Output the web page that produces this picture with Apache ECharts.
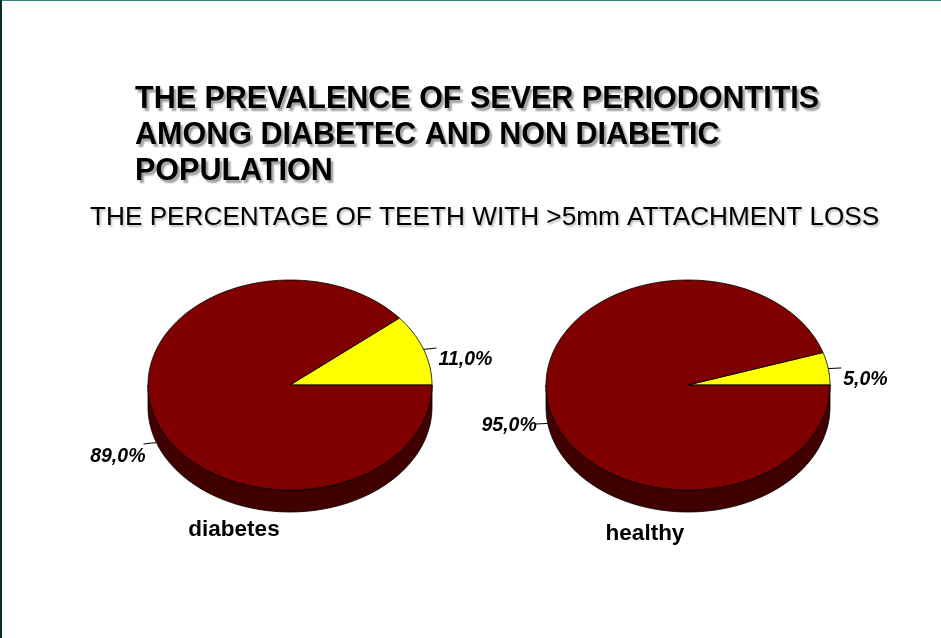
<!DOCTYPE html>
<html>
<head>
<meta charset="utf-8">
<script src="https://cdn.jsdelivr.net/npm/echarts@6/dist/echarts.min.js"></script>
<style>
html,body{margin:0;padding:0;background:#fff;}
#chart{width:941px;height:638px;}
</style>
</head>
<body>
<div id="chart"></div>
<script>
// ---- data ----
const titleLines = ['THE PREVALENCE OF SEVER PERIODONTITIS', 'AMONG DIABETEC AND NON DIABETIC', 'POPULATION'];
const subtitleText = 'THE PERCENTAGE OF TEETH WITH >5mm ATTACHMENT LOSS';
const pieNames = ['diabetes', 'healthy'];
const sliceNames = ['severe periodontitis', 'other'];
const diabetesValues = [11.0, 89.0];
const healthyValues = [5.0, 95.0];
const sliceColors = ['#FFFF00', '#800000'];
const sideColors = ['#7f7f00', '#400000'];

// ---- layout (style only) ----
const pieLayout = [
  { cx: 290, cy: 385, rx: 142, ry: 105, depth: 22, labelDy: [12, 13] },
  { cx: 688, cy: 385, rx: 142, ry: 105, depth: 22, labelDy: [12, 2] }
];

function fmt(v) { return v.toFixed(1).replace('.', ',') + '%'; }

function ellPt(L, a, dy) {
  return [L.cx + L.rx * Math.cos(a), L.cy - L.ry * Math.sin(a) + (dy || 0)];
}

function makeRender(values, L) {
  const total = values.reduce((s, v) => s + v, 0);
  return function (params, api) {
    const i = params.dataIndex;
    const v = api.value(0);
    let before = 0;
    for (let k = 0; k < i; k++) before += values[k];
    const a1 = before / total * Math.PI * 2;
    const a2 = (before + v) / total * Math.PI * 2;
    const children = [];
    // side wall (visible where angle in [PI, 2PI])
    const s = Math.max(a1, Math.PI), e = Math.min(a2, Math.PI * 2);
    if (e > s) {
      const pts = [];
      const n = 80;
      for (let k = 0; k <= n; k++) pts.push(ellPt(L, s + (e - s) * k / n, 0));
      for (let k = n; k >= 0; k--) pts.push(ellPt(L, s + (e - s) * k / n, L.depth));
      children.push({
        type: 'polygon', z2: 1,
        shape: { points: pts },
        style: { fill: sideColors[i], stroke: '#000', lineWidth: 0.8 }
      });
    }
    // top face
    const top = [[L.cx, L.cy]];
    const m = Math.max(4, Math.ceil((a2 - a1) / (Math.PI * 2) * 240));
    for (let k = 0; k <= m; k++) top.push(ellPt(L, a1 + (a2 - a1) * k / m, 0));
    children.push({
      type: 'polygon', z2: 10,
      shape: { points: top },
      style: { fill: sliceColors[i], stroke: '#000', lineWidth: 0.8 }
    });
    // label with leader
    const am = (a1 + a2) / 2;
    const lower = Math.sin(am) < 0;
    const p = ellPt(L, am, lower ? L.depth : 0);
    const dx = Math.cos(am), dyv = -Math.sin(am) * 0.3;
    const nl = Math.sqrt(dx * dx + dyv * dyv);
    const q = [p[0] + dx / nl * 13, p[1] + dyv / nl * 13];
    const right = dx >= 0;
    children.push({
      type: 'line', z2: 12,
      shape: { x1: p[0], y1: p[1], x2: q[0], y2: q[1] },
      style: { stroke: '#000', lineWidth: 1 }
    });
    children.push({
      type: 'text', z2: 12,
      x: q[0] + 2, y: q[1] + L.labelDy[i],
      style: {
        text: fmt(v), fill: '#000',
        font: 'italic bold 19.5px "Liberation Sans", Arial, sans-serif',
        align: right ? 'left' : 'right', verticalAlign: 'middle'
      }
    });
    return { type: 'group', children: children };
  };
}

const chart = echarts.init(document.getElementById('chart'), null, { renderer: 'canvas' });

const shadow = { textShadowColor: 'rgba(0,0,0,0.38)', textShadowBlur: 2, textShadowOffsetX: 2.5, textShadowOffsetY: 2.5 };

chart.setOption({
  backgroundColor: '#ffffff',
  animation: false,
  title: [
    {
      text: titleLines.join('\n'), left: 135, top: 82, padding: 0,
      textStyle: Object.assign({ fontFamily: '"Liberation Sans", Arial, sans-serif', fontWeight: 'bold', fontSize: 30.5, lineHeight: 36, color: '#000' }, shadow)
    },
    {
      text: subtitleText, left: 90, top: 203, padding: 0,
      textStyle: Object.assign({ fontFamily: '"Liberation Sans", Arial, sans-serif', fontWeight: 'normal', fontSize: 26.2, lineHeight: 30, color: '#000' }, { textShadowColor: 'rgba(0,0,0,0.25)', textShadowBlur: 2, textShadowOffsetX: 1.5, textShadowOffsetY: 1.5 })
    }
  ],
  graphic: [
    { type: 'rect', left: 0, top: 0, shape: { width: 941, height: 1 }, style: { fill: '#3d7f7d' } },
    { type: 'rect', left: 0, top: 0, shape: { width: 2, height: 638 }, style: { fill: '#0a2b2a' } },
    { type: 'text', x: 234, y: 530, style: { text: pieNames[0], font: 'bold 22.5px "Liberation Sans", Arial, sans-serif', fill: '#000', align: 'center', verticalAlign: 'middle' } },
    { type: 'text', x: 645, y: 534, style: { text: pieNames[1], font: 'bold 22.5px "Liberation Sans", Arial, sans-serif', fill: '#000', align: 'center', verticalAlign: 'middle' } }
  ],
  series: [
    {
      type: 'custom', name: pieNames[0], coordinateSystem: 'none', silent: true,
      renderItem: makeRender(diabetesValues, pieLayout[0]),
      data: diabetesValues.map((v, i) => ({ name: sliceNames[i], value: [v] }))
    },
    {
      type: 'custom', name: pieNames[1], coordinateSystem: 'none', silent: true,
      renderItem: makeRender(healthyValues, pieLayout[1]),
      data: healthyValues.map((v, i) => ({ name: sliceNames[i], value: [v] }))
    }
  ]
});
</script>
</body>
</html>
